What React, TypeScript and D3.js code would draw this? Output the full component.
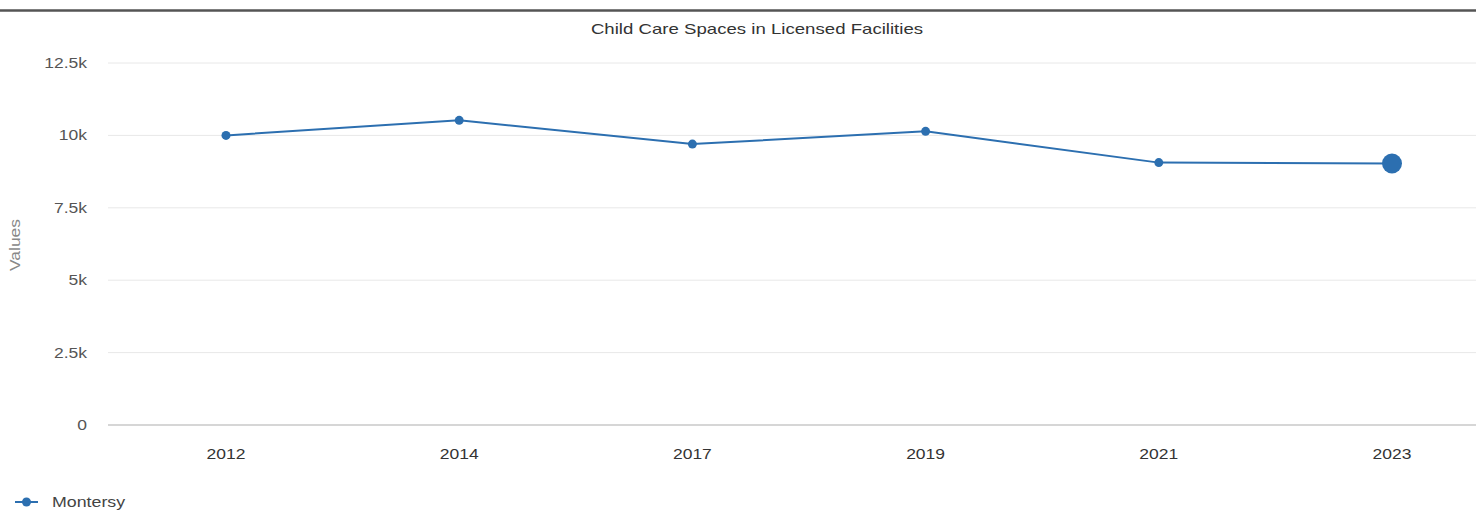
import React from "react";
import * as d3 from "d3";

const title = "Child Care Spaces in Licensed Facilities";
const categories = ["2012", "2014", "2017", "2019", "2021", "2023"];
const values = [10000, 10520, 9700, 10140, 9060, 9030];
const yTicks = [0, 2500, 5000, 7500, 10000, 12500];
const yTickLabels = ["0", "2.5k", "5k", "7.5k", "10k", "12.5k"];
const seriesName = "Montersy";
const yAxisTitle = "Values";

const W = 1476;
const H = 510;
const plotLeft = 108;
const plotRight = 1476;
const color = "#2c6fb0";
const font = "'Liberation Sans', Arial, sans-serif";
const SX = 1.25;

function WideText(props: {
  x: number;
  y: number;
  anchor?: string;
  size: number;
  fill: string;
  sx?: number;
  rotate?: number;
  children: React.ReactNode;
}) {
  const { x, y, anchor = "start", size, fill, sx = SX, rotate = 0, children } = props;
  return (
    <g transform={`translate(${x},${y}) rotate(${rotate}) scale(${sx},1)`}>
      <text x={0} y={0} textAnchor={anchor} fontSize={size} fill={fill}>
        {children}
      </text>
    </g>
  );
}

export default function App() {
  const x = d3.scalePoint<string>().domain(categories).range([226, 1392]);
  const y = d3.scaleLinear().domain([0, 12500]).range([425, 63]);
  const line = d3
    .line<number>()
    .x((_, i) => x(categories[i]) as number)
    .y((d) => y(d));

  return (
    <svg
      width={W}
      height={H}
      style={{ position: "absolute", left: 0, top: 0, background: "#fff" }}
      fontFamily={font}
    >
      <rect x={0} y={0} width={W} height={H} fill="#fff" />
      <line x1={0} x2={W} y1={10.5} y2={10.5} stroke="#555" strokeWidth={2.5} />
      <WideText x={757} y={34} anchor="middle" size={14} fill="#333" sx={1.33}>
        {title}
      </WideText>
      {yTicks.map((t, i) => (
        <g key={t}>
          <line
            x1={plotLeft}
            x2={plotRight}
            y1={y(t)}
            y2={y(t)}
            stroke={t === 0 ? "#c8c8c8" : "#e8e8e8"}
            strokeWidth={t === 0 ? 1.5 : 1}
          />
          <WideText x={87} y={y(t) + 5} anchor="end" size={14} fill="#555">
            {yTickLabels[i]}
          </WideText>
        </g>
      ))}
      <WideText x={20} y={245} anchor="middle" size={14} fill="#888" rotate={-90}>
        {yAxisTitle}
      </WideText>
      {categories.map((c) => (
        <WideText key={c} x={x(c) as number} y={459} anchor="middle" size={14} fill="#333">
          {c}
        </WideText>
      ))}
      <path d={line(values) || ""} fill="none" stroke={color} strokeWidth={2} />
      {values.map((v, i) => (
        <circle
          key={i}
          cx={x(categories[i]) as number}
          cy={y(v)}
          r={i === values.length - 1 ? 10 : 4.5}
          fill={color}
        />
      ))}
      <line x1={15} x2={38} y1={502} y2={502} stroke={color} strokeWidth={2} />
      <circle cx={26.5} cy={502} r={4.5} fill={color} />
      <WideText x={52} y={507} size={14} fill="#444" sx={1.27}>
        {seriesName}
      </WideText>
    </svg>
  );
}
